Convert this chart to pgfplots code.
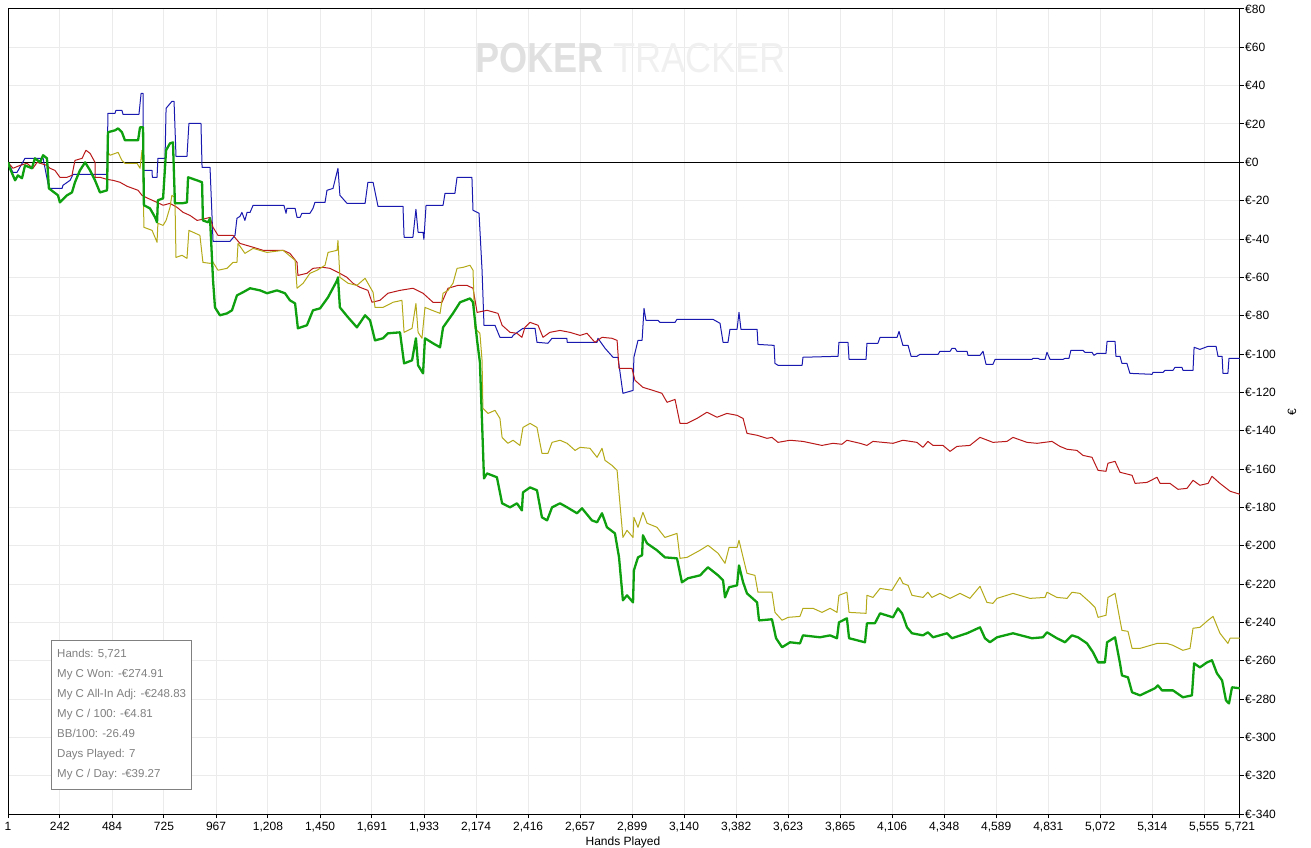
\documentclass[border=0pt]{standalone}
\usepackage{fontspec}
\setmainfont{Liberation Sans}
\usepackage{pgfplots}
\pgfplotsset{compat=1.18}
\definecolor{cblue}{RGB}{25,25,175}
\definecolor{cred}{RGB}{185,25,25}
\definecolor{colive}{RGB}{180,170,25}
\definecolor{cgreen}{RGB}{15,160,15}
\begin{document}
\begin{tikzpicture}[x=1pt,y=1pt]
\begin{axis}[
  scale only axis, width=1232pt, height=805pt,
  xmin=1, xmax=5721, ymin=-340, ymax=80,
  axis line style={black, line width=1pt},
  xtick={1,242,484,725,967,1208,1450,1691,1933,2174,2416,2657,2899,3140,3382,3623,3865,4106,4348,4589,4831,5072,5314,5555,5721},
  xticklabels={1,242,484,725,967,{1,208},{1,450},{1,691},{1,933},{2,174},{2,416},{2,657},{2,899},{3,140},{3,382},{3,623},{3,865},{4,106},{4,348},{4,589},{4,831},{5,072},{5,314},{5,555},{5,721}},
  ytick={-340,-320,...,80},
  yticklabels={€-340,€-320,€-300,€-280,€-260,€-240,€-220,€-200,€-180,€-160,€-140,€-120,€-100,€-80,€-60,€-40,€-20,€0,€20,€40,€60,€80},
  xtick pos=left, ytick pos=right, yticklabel pos=right,
  tick align=outside, major tick length=4pt,
  tick style={black, line width=1pt},
  grid=major, major grid style={black!8, line width=1pt},
  ticklabel style={font=\fontsize{12}{14}\selectfont},
  yticklabel style={anchor=west, inner sep=0pt, xshift=1pt},
  xticklabel style={anchor=north, inner sep=0pt, yshift=-4pt},
]
\coordinate (LL) at (rel axis cs:0,0);
\node[font=\fontsize{42}{42}\selectfont\bfseries, text=black!12, anchor=west, inner sep=0pt, xscale=0.86] at (rel axis cs:0.3791,0.9391) {POKER};
\node[font=\fontsize{42}{42}\selectfont, text=black!6, anchor=west, inner sep=0pt, xscale=0.86] at (rel axis cs:0.4911,0.9391) {TRACKER};
\addplot[black, line width=1pt] coordinates {(1,0) (5721,0)};
% blue
\addplot[cblue, line width=1pt, line join=round] coordinates {
(1,0) (24,-5.2) (43,-5.2) (80,2.1) (164,2.1) (191,-13.6) (252,-13.6) (256,-12.0) (289,-9.4) (303,-6.3) (461,-6.3) (465,25.6) (498,25.6) (502,27.1) (530,27.1) (535,25.0) (609,25.0) (619,36.0) (628,36.0) (629,-4.2) (670,-4.2) (671,-7.8) (693,-7.8) (697,2.1) (730,2.1) (735,28.2) (762,31.8) (772,31.8) (781,3.1) (832,3.1) (841,20.3) (897,20.3) (902,-2.6) (939,-2.6) (953,-41.2) (1032,-41.2) (1055,-38.1) (1064,-29.2) (1078,-28.2) (1087,-26.1) (1101,-30.3) (1111,-26.1) (1125,-26.1) (1139,-22.4) (1282,-22.4) (1292,-26.6) (1296,-24.0) (1334,-24.0) (1343,-28.7) (1357,-28.7) (1366,-26.6) (1403,-26.6) (1417,-24.0) (1426,-20.9) (1473,-20.9) (1482,-14.6) (1510,-13.6) (1533,-3.1) (1542,-17.2) (1575,-21.4) (1659,-21.4) (1672,-10.4) (1696,-10.4) (1719,-23.0) (1835,-23.0) (1840,-39.1) (1881,-39.1) (1895,-24.5) (1905,-36.5) (1928,-36.5) (1932,-40.2) (1942,-22.4) (2021,-22.4) (2030,-16.2) (2076,-16.2) (2086,-7.8) (2155,-7.8) (2160,-25.0) (2188,-26.6) (2202,-56.3) (2211,-85.0) (2262,-85.0) (2285,-91.3) (2341,-91.3) (2346,-90.3) (2392,-86.6) (2448,-86.6) (2457,-93.9) (2508,-94.4) (2527,-91.8) (2596,-91.8) (2597,-93.9) (2736,-93.9) (2740,-91.8) (2773,-97.0) (2810,-101.7) (2833,-101.7) (2856,-120.5) (2903,-119.0) (2907,-101.7) (2926,-92.9) (2945,-92.9) (2954,-76.2) (2963,-82.4) (3019,-82.4) (3028,-83.5) (3098,-83.5) (3107,-81.9) (3274,-81.9) (3307,-84.0) (3321,-93.9) (3344,-93.9) (3353,-87.1) (3386,-87.1) (3395,-78.3) (3404,-87.1) (3479,-87.1) (3483,-95.0) (3558,-95.5) (3562,-104.9) (3576,-105.9) (3688,-105.9) (3692,-101.7) (3855,-101.2) (3859,-93.9) (3901,-93.9) (3906,-102.8) (3985,-102.8) (3989,-94.4) (4040,-94.4) (4050,-91.3) (4129,-91.3) (4138,-88.2) (4156,-95.5) (4180,-95.5) (4194,-101.2) (4221,-101.2) (4235,-100.2) (4319,-100.2) (4328,-98.6) (4375,-98.6) (4384,-97.0) (4398,-97.0) (4407,-98.6) (4454,-98.6) (4458,-100.7) (4514,-100.7) (4528,-98.6) (4542,-105.4) (4574,-105.4) (4584,-102.8) (4755,-102.8) (4760,-102.3) (4783,-102.3) (4793,-102.8) (4816,-102.8) (4825,-99.1) (4839,-102.8) (4899,-102.8) (4909,-102.3) (4927,-102.3) (4936,-98.1) (4992,-98.1) (5001,-99.1) (5034,-99.1) (5043,-100.7) (5057,-99.7) (5099,-99.7) (5104,-93.4) (5141,-93.4) (5145,-101.2) (5164,-101.2) (5173,-104.9) (5196,-104.9) (5210,-110.1) (5313,-110.6) (5317,-109.6) (5364,-109.6) (5373,-108.5) (5410,-108.5) (5419,-107.0) (5452,-107.0) (5456,-108.5) (5503,-108.5) (5508,-96.5) (5535,-97.6) (5549,-97.0) (5573,-96.0) (5610,-96.0) (5619,-101.2) (5638,-101.2) (5642,-110.1) (5665,-110.1) (5670,-102.3) (5721,-102.3)
};
% red
\addplot[cred, line width=1pt, line join=round] coordinates {
(1,0) (24,-3.1) (57,-1.6) (89,-0.5) (117,-3.1) (136,0) (182,-1.6) (196,-3.1) (219,-4.2) (242,-7.8) (275,-7.8) (298,-6.8) (312,1.0) (345,2.1) (363,6.3) (382,4.7) (405,0) (406,-7.8) (428,-7.8) (461,-8.9) (489,-9.4) (521,-10.4) (554,-12.5) (581,-13.6) (605,-14.6) (623,-17.2) (651,-18.8) (693,-20.9) (721,-22.4) (753,-21.4) (786,-23.5) (814,-26.1) (846,-27.7) (879,-30.3) (906,-29.7) (939,-28.7) (953,-33.9) (976,-38.1) (1018,-38.1) (1046,-38.1) (1078,-42.3) (1139,-44.3) (1185,-45.9) (1231,-45.9) (1278,-45.9) (1310,-47.5) (1343,-52.2) (1347,-59.0) (1389,-57.9) (1417,-55.3) (1464,-54.8) (1496,-55.3) (1533,-57.4) (1575,-60.0) (1603,-63.1) (1635,-65.2) (1672,-66.8) (1691,-73.0) (1728,-72.0) (1765,-68.3) (1821,-66.8) (1881,-65.7) (1928,-68.3) (1974,-73.0) (2016,-73.0) (2044,-65.7) (2090,-64.2) (2132,-64.2) (2160,-65.7) (2179,-78.3) (2225,-77.2) (2276,-78.8) (2295,-85.0) (2332,-88.7) (2364,-89.2) (2387,-91.3) (2401,-86.1) (2425,-83.5) (2462,-85.0) (2485,-91.3) (2517,-88.7) (2564,-87.7) (2610,-88.7) (2657,-90.3) (2689,-89.2) (2726,-93.9) (2759,-91.3) (2805,-91.8) (2829,-92.9) (2838,-107.5) (2898,-107.5) (2912,-113.7) (2949,-117.4) (2996,-119.0) (3037,-120.5) (3061,-125.2) (3098,-123.7) (3121,-136.2) (3154,-136.2) (3200,-133.6) (3246,-130.4) (3293,-133.0) (3339,-131.0) (3386,-132.0) (3414,-133.6) (3432,-141.4) (3479,-142.4) (3525,-144.0) (3548,-143.5) (3576,-146.1) (3632,-145.0) (3692,-145.6) (3780,-147.7) (3831,-146.6) (3873,-147.1) (3896,-145.0) (3957,-146.6) (3989,-147.7) (4017,-145.6) (4110,-146.6) (4156,-145.0) (4221,-146.1) (4249,-148.7) (4272,-145.6) (4296,-147.7) (4342,-147.7) (4375,-150.8) (4407,-148.2) (4467,-147.7) (4514,-143.5) (4574,-146.1) (4639,-145.6) (4667,-143.5) (4732,-146.1) (4779,-146.6) (4848,-145.6) (4885,-148.2) (4918,-149.7) (4964,-150.3) (4992,-152.9) (5034,-153.9) (5062,-160.7) (5099,-161.2) (5108,-157.0) (5141,-156.0) (5164,-161.7) (5220,-163.3) (5234,-167.5) (5289,-167.0) (5336,-164.3) (5350,-167.5) (5396,-167.5) (5433,-170.6) (5475,-170.1) (5503,-165.9) (5535,-168.5) (5573,-167.5) (5591,-163.8) (5628,-167.5) (5675,-171.6) (5721,-173.2)
};
% olive
\addplot[colive, line width=1pt, line join=round] coordinates {
(1,0) (10,-3.1) (34,-9.4) (47,-6.8) (66,-8.3) (80,-1.6) (112,-3.1) (126,2.1) (150,0) (164,3.7) (182,2.1) (191,-13.6) (233,-17.2) (242,-20.9) (275,-17.2) (298,-15.7) (312,-10.4) (335,-4.2) (359,0) (382,-4.2) (405,-9.4) (428,-15.7) (461,-14.6) (465,5.2) (475,3.7) (512,5.2) (530,1.0) (544,-0.5) (600,-0.5) (614,-3.1) (623,6.3) (628,-4.2) (632,-33.9) (670,-35.5) (693,-41.7) (697,-31.8) (721,-32.9) (735,-30.3) (753,-23.5) (762,-17.2) (776,-18.3) (781,-49.6) (809,-48.5) (832,-50.1) (841,-35.5) (892,-38.1) (906,-52.2) (939,-52.7) (953,-52.2) (976,-56.3) (1018,-55.3) (1046,-52.2) (1064,-52.2) (1069,-42.3) (1101,-47.5) (1139,-44.9) (1204,-47.0) (1278,-45.9) (1334,-51.1) (1343,-65.7) (1371,-63.1) (1403,-57.9) (1436,-56.3) (1473,-53.7) (1487,-47.0) (1529,-45.9) (1533,-40.7) (1542,-60.0) (1580,-63.1) (1621,-64.2) (1659,-60.5) (1696,-67.8) (1705,-75.7) (1742,-75.7) (1789,-73.0) (1830,-72.0) (1840,-88.7) (1877,-86.6) (1895,-73.6) (1905,-88.7) (1923,-91.8) (1937,-75.7) (1970,-77.2) (2007,-78.8) (2021,-68.3) (2044,-66.8) (2067,-63.1) (2086,-55.3) (2114,-54.8) (2146,-53.7) (2160,-56.3) (2169,-86.6) (2192,-89.2) (2202,-103.3) (2206,-128.3) (2230,-131.0) (2262,-129.4) (2285,-133.6) (2295,-143.5) (2322,-146.6) (2346,-145.0) (2378,-147.7) (2392,-138.3) (2425,-136.2) (2457,-138.3) (2480,-151.8) (2508,-151.8) (2527,-146.1) (2564,-145.0) (2597,-146.6) (2634,-150.3) (2657,-148.7) (2703,-149.2) (2736,-153.9) (2759,-149.2) (2773,-155.5) (2805,-158.1) (2829,-160.7) (2838,-172.7) (2856,-195.7) (2875,-192.0) (2903,-195.7) (2907,-185.2) (2926,-190.4) (2949,-182.6) (2968,-188.3) (3014,-190.4) (3051,-195.7) (3107,-193.6) (3121,-206.6) (3154,-206.1) (3214,-202.4) (3251,-199.8) (3298,-204.0) (3330,-209.2) (3349,-200.9) (3386,-200.9) (3395,-197.2) (3414,-206.1) (3432,-214.4) (3469,-215.5) (3483,-224.3) (3548,-224.3) (3562,-234.8) (3595,-238.9) (3623,-237.4) (3678,-236.9) (3692,-232.7) (3739,-232.7) (3780,-234.8) (3818,-232.7) (3850,-234.8) (3859,-225.9) (3896,-224.3) (3906,-234.8) (3985,-235.3) (3989,-225.9) (4017,-227.0) (4050,-222.3) (4105,-223.3) (4142,-216.5) (4156,-219.7) (4180,-220.7) (4198,-225.9) (4249,-227.0) (4272,-224.3) (4291,-227.0) (4328,-224.9) (4375,-227.5) (4421,-224.9) (4467,-227.5) (4514,-221.2) (4546,-229.6) (4574,-230.1) (4593,-227.5) (4667,-224.9) (4746,-227.5) (4816,-227.0) (4825,-224.3) (4871,-227.0) (4918,-227.5) (4941,-224.3) (4978,-224.9) (5025,-229.6) (5048,-232.2) (5062,-237.4) (5099,-236.3) (5108,-227.0) (5141,-224.9) (5164,-238.9) (5173,-244.2) (5201,-244.7) (5220,-253.6) (5257,-253.6) (5336,-251.0) (5382,-251.0) (5410,-252.0) (5456,-254.6) (5489,-253.6) (5503,-243.1) (5535,-242.6) (5573,-238.9) (5596,-236.9) (5628,-245.7) (5665,-251.0) (5675,-248.3) (5721,-248.3)
};
% green
\addplot[cgreen, line width=2.3pt, line join=round] coordinates {
(1,0) (10,-3.1) (34,-9.4) (47,-6.8) (66,-8.3) (80,-1.6) (112,-3.1) (126,2.1) (150,0) (164,3.7) (182,2.1) (191,-13.6) (233,-17.2) (242,-20.9) (275,-17.2) (298,-15.7) (312,-10.4) (335,-4.2) (359,0) (382,-4.2) (405,-9.4) (428,-15.7) (461,-14.6) (465,15.7) (498,16.7) (512,17.7) (530,15.7) (544,11.5) (605,11.5) (614,18.3) (628,18.3) (632,-22.4) (660,-24.0) (684,-28.7) (693,-31.3) (697,-19.8) (721,-18.8) (735,6.3) (753,9.9) (767,10.4) (776,-21.4) (809,-21.4) (832,-20.9) (837,-7.8) (879,-9.4) (902,-10.4) (906,-30.3) (930,-31.3) (939,-29.2) (953,-61.6) (962,-75.7) (985,-79.8) (1018,-78.8) (1041,-77.2) (1064,-69.4) (1092,-67.8) (1125,-65.7) (1171,-66.8) (1204,-68.3) (1250,-66.8) (1287,-68.3) (1310,-72.0) (1334,-73.6) (1347,-86.6) (1389,-85.0) (1417,-77.2) (1450,-76.2) (1487,-70.4) (1529,-61.6) (1533,-60.0) (1542,-75.7) (1580,-80.9) (1621,-86.1) (1659,-79.8) (1682,-82.4) (1705,-92.9) (1742,-91.8) (1765,-89.2) (1821,-88.7) (1840,-104.9) (1877,-103.3) (1895,-91.8) (1905,-105.9) (1928,-110.1) (1937,-91.8) (1974,-94.4) (2007,-96.5) (2021,-86.1) (2067,-78.8) (2100,-73.0) (2146,-71.0) (2160,-73.0) (2179,-92.9) (2192,-104.3) (2202,-135.7) (2211,-164.9) (2225,-162.3) (2271,-164.3) (2295,-177.9) (2332,-180.0) (2364,-177.9) (2387,-181.6) (2392,-172.2) (2425,-169.6) (2457,-171.1) (2480,-185.2) (2504,-186.8) (2527,-180.0) (2564,-177.9) (2597,-180.0) (2643,-183.1) (2666,-180.5) (2712,-186.8) (2736,-187.8) (2759,-183.1) (2782,-190.4) (2819,-193.6) (2838,-206.1) (2856,-228.5) (2875,-225.9) (2903,-229.6) (2907,-212.9) (2926,-206.1) (2945,-205.0) (2949,-194.6) (2968,-198.8) (3014,-202.4) (3051,-206.1) (3107,-206.6) (3130,-219.1) (3158,-217.0) (3214,-215.5) (3251,-211.3) (3298,-215.5) (3321,-218.1) (3330,-227.0) (3349,-221.7) (3386,-220.7) (3395,-210.3) (3414,-219.1) (3432,-224.9) (3479,-229.6) (3488,-239.0) (3548,-238.4) (3567,-248.3) (3595,-253.0) (3632,-250.4) (3678,-251.0) (3692,-246.8) (3771,-247.8) (3818,-246.8) (3850,-248.3) (3859,-240.0) (3896,-237.9) (3906,-248.3) (3980,-250.4) (3989,-240.5) (4026,-240.5) (4050,-235.3) (4110,-237.4) (4133,-232.7) (4152,-235.3) (4175,-242.6) (4198,-245.7) (4249,-246.8) (4272,-245.2) (4296,-247.8) (4361,-245.7) (4384,-248.3) (4454,-245.7) (4514,-242.6) (4537,-248.3) (4560,-250.4) (4593,-247.8) (4667,-245.7) (4755,-248.3) (4806,-247.8) (4825,-245.2) (4871,-248.3) (4909,-250.4) (4941,-246.8) (4969,-247.8) (5011,-251.0) (5039,-255.7) (5062,-260.9) (5094,-260.9) (5104,-250.4) (5141,-247.8) (5164,-261.4) (5173,-267.7) (5201,-268.7) (5220,-276.5) (5257,-278.1) (5326,-274.4) (5340,-272.9) (5359,-275.5) (5410,-275.5) (5456,-279.1) (5498,-278.1) (5508,-261.4) (5535,-263.5) (5568,-260.9) (5591,-259.8) (5614,-266.6) (5638,-270.3) (5656,-280.7) (5670,-282.3) (5684,-273.9) (5721,-274.4)
};
\end{axis}
\begin{scope}[shift={(LL)}]
% info box
\draw[draw=black!50, fill=white, line width=1pt] (43,25) rectangle (183,174);
\begin{scope}[every node/.style={anchor=base west, inner sep=0pt, text=black!50, font=\fontsize{11.5}{13}\selectfont}]
\node at (49,157) {Hands: 5,721};
\node at (49,137) {My C Won: -€274.91};
\node at (49,117) {My C All-In Adj: -€248.83};
\node at (49,97) {My C / 100: -€4.81};
\node at (49,77) {BB/100: -26.49};
\node at (49,57) {Days Played: 7};
\node at (49,37) {My C / Day: -€39.27};
\end{scope}
% axis labels
\node[anchor=north, inner sep=0pt, font=\fontsize{12}{14}\selectfont] at (615,-23) {Hands Played};
\node[rotate=90, inner sep=0pt, font=\fontsize{12}{14}\selectfont] at (1284,402) {€};
\end{scope}
\pgfresetboundingbox
\useasboundingbox ([shift={(-8,-33)}]LL) rectangle ([shift={(1303,814)}]LL);
\end{tikzpicture}
\end{document}
